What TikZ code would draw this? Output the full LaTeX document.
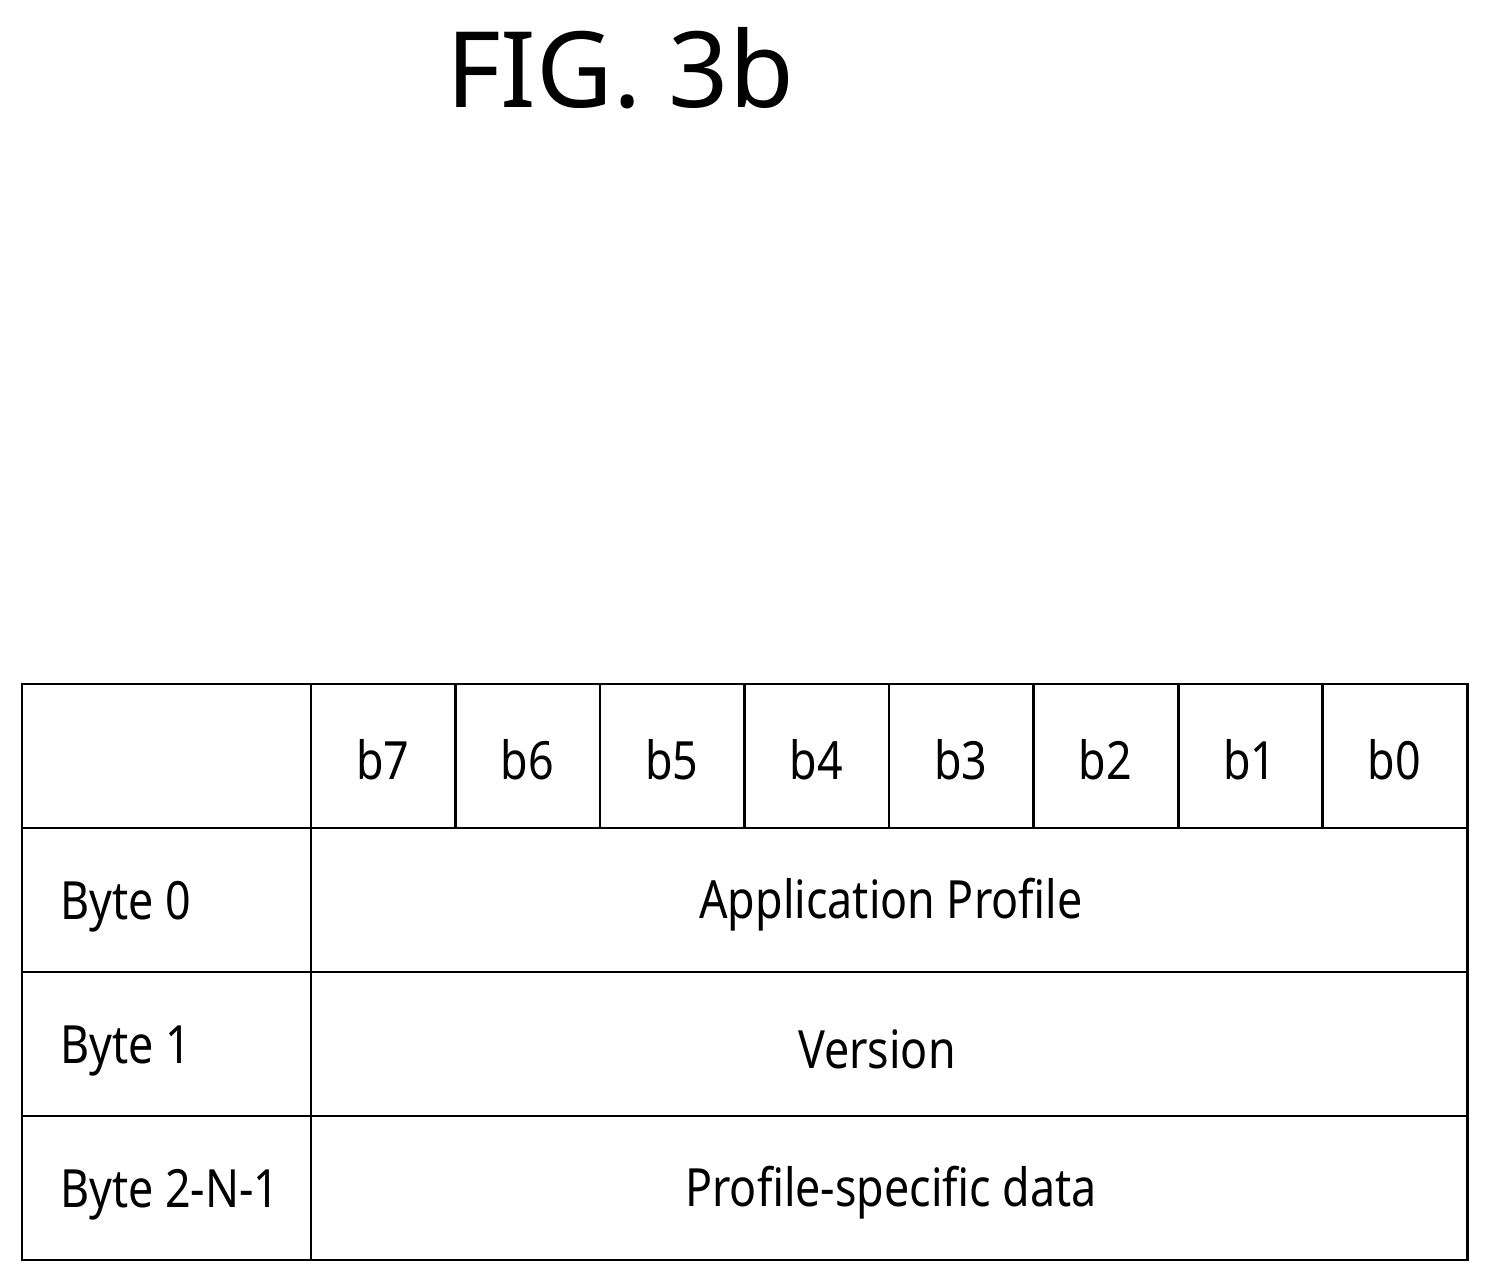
\documentclass[tikz,border=0pt]{standalone}
\usepackage{fontspec}
\setmainfont{Noto Sans}
\newfontfamily\cellfont[FakeStretch=0.85]{Noto Sans}
\begin{document}
\begin{tikzpicture}[x=0.02cm,y=-0.02cm,
		cell/.style={font=\cellfont\fontsize{30}{36}\selectfont, inner sep=0pt},
		grid/.style={line width=1.7pt}]
		\useasboundingbox (0,0) rectangle (1489,1284);

		\node[font=\fontsize{60}{70}\selectfont, inner sep=0pt] (title) at (620,68) {FIG. 3b};

		% table frame and rows
		\draw[grid] (22,684) rectangle (1467,1260);
		\foreach \y in {828,972,1116} {
			\draw[grid] (22,\y) -- (1467,\y);
		}
		\draw[grid] (311,684) -- (311,1260);

		% bit columns
		\foreach \i in {1,...,7} {
			\draw[grid] ({311 + \i*144.5},684) -- ({311 + \i*144.5},828);
		}
		\foreach \i/\b in {0/7,1/6,2/5,3/4,4/3,5/2,6/1,7/0} {
			\node[cell] (bit\b) at ({383 + \i*144.5},760) {b\b};
		}

		% row labels and contents
		\node[cell, anchor=west] (byte0) at (60,907) {Byte 0};
		\node[cell, anchor=west] (byte1) at (60,1051) {Byte 1};
		\node[cell, anchor=west] (byte2) at (60,1195) {Byte 2-N-1};
		\node[cell] (profile) at (891,905) {Application Profile};
		\node[cell] (version) at (877,1049) {Version};
		\node[cell] (data) at (891,1193) {Profile-specific data};
	\end{tikzpicture}
\end{document}
